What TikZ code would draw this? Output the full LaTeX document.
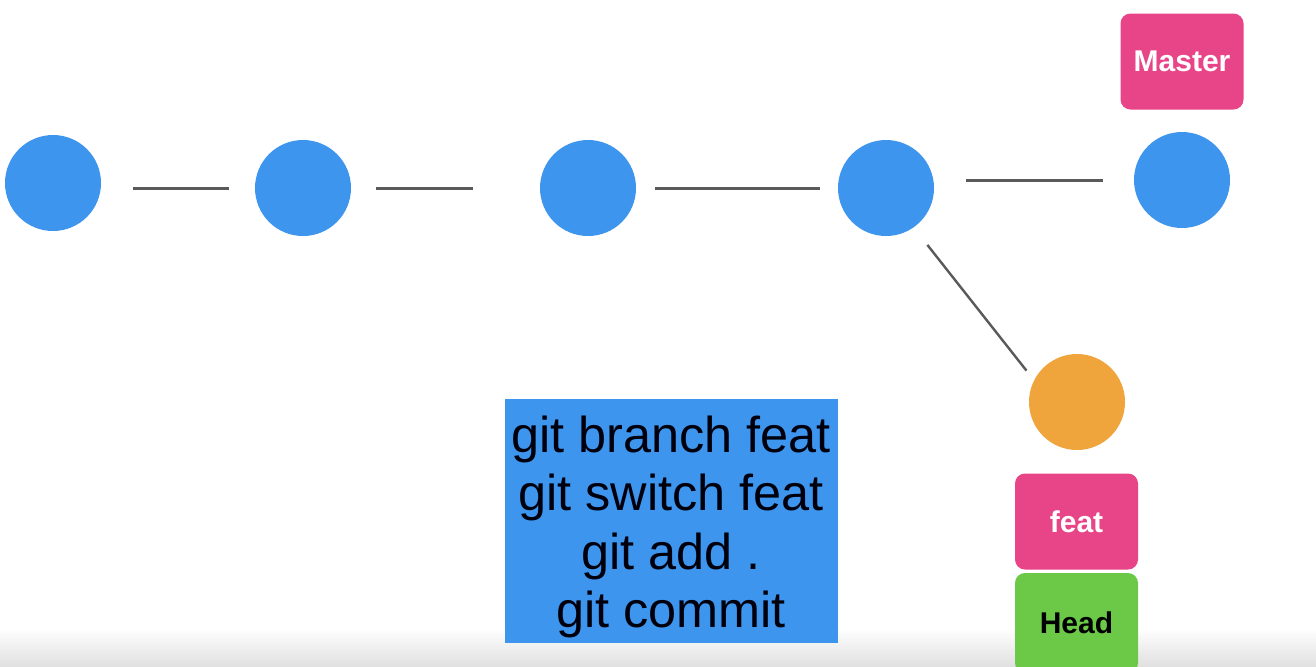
\documentclass[tikz,border=0pt]{standalone}
\usepackage{fontspec}
\setmainfont{Liberation Sans}
\definecolor{commitblue}{RGB}{61,149,237}
\definecolor{featorange}{RGB}{240,165,60}
\definecolor{labelpink}{RGB}{232,69,136}
\definecolor{headgreen}{RGB}{108,201,72}
\definecolor{linkgray}{RGB}{90,90,90}
\begin{document}
\begin{tikzpicture}[x=0.5pt,y=-0.5pt,
  commit/.style={circle,fill=commitblue,draw=none,minimum size=48pt,inner sep=0pt},
  newcommit/.style={commit,fill=featorange},
  link/.style={draw=linkgray,line width=1.5pt},
  tag/.style={rounded corners=5pt,draw=none,minimum width=61.5pt,minimum height=48pt,inner sep=0pt,font=\fontsize{15}{18}\selectfont\bfseries},
  cmdbox/.style={fill=commitblue,draw=none,minimum width=166.5pt,minimum height=122pt,inner sep=0pt},
  cmdtext/.style={align=center,inner sep=0pt,font=\fontsize{25.2}{29.2}\selectfont,text=black!95!blue}
]
\useasboundingbox (0,0) rectangle (1316,666);
\fill[white] (0,0) rectangle (1316,666);
\fill[top color=white,bottom color=black!12] (0,628) rectangle (1316,666);

\node[commit] (c1) at (53,183) {};
\node[commit] (c2) at (303,188) {};
\node[commit] (c3) at (588,188) {};
\node[commit] (c4) at (886,188) {};
\node[commit] (c5) at (1182,180) {};
\node[newcommit] (o) at (1077,402) {};

\node[tag,fill=labelpink,text=white] (master) at (1182,61.5) {Master};
\node[tag,fill=labelpink,text=white] (feat) at (1076.5,521.5) {feat};
\node[tag,fill=headgreen,text=black,minimum height=50pt] (head) at (1076.5,623) {Head};

\node[cmdbox] (cmds) at (671,521) {};
\node[cmdtext] (cmdlines) at (671,527) {git branch feat\\git switch feat\\git add .\\git commit};

\draw[link,shorten <=16pt,shorten >=13pt] (c1.east |- c2.west) -- (c2.west);
\draw[link,shorten <=12.5pt,shorten >=33.5pt] (c2.east) -- (c3.west);
\draw[link,shorten <=9.5pt,shorten >=9pt] (c3.east) -- (c4.west);
\draw[link,shorten <=16pt,shorten >=15.5pt] (c4.east |- c5.west) -- (c5.west);
\draw[link,line width=1.2pt,shorten <=11pt,shorten >=6pt] (c4.-55) -- (o.153);
\end{tikzpicture}
\end{document}
